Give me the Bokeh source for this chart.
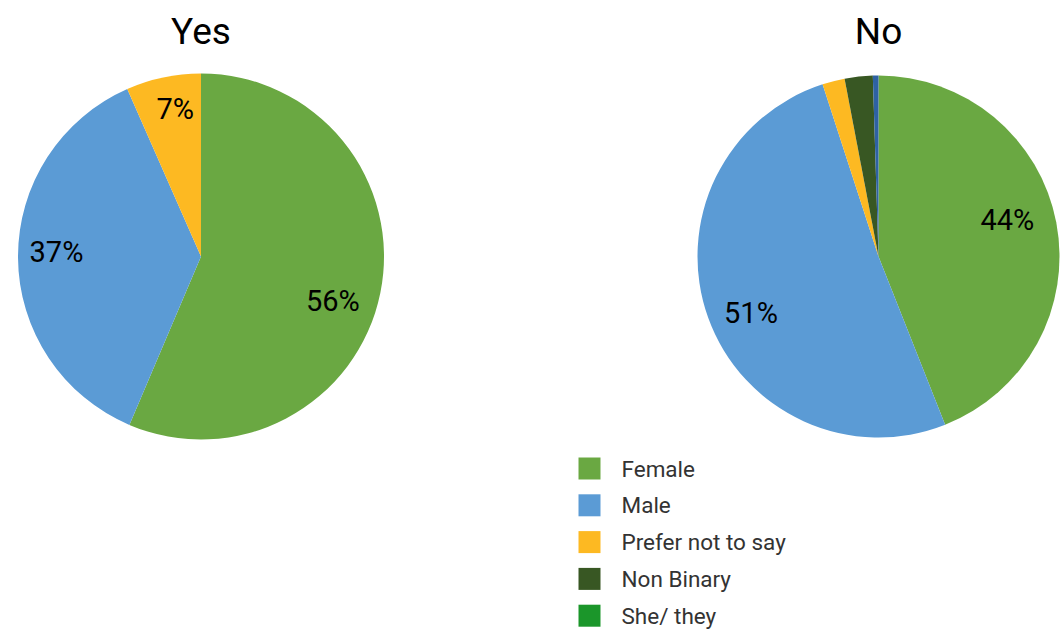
import math
from bokeh.plotting import figure
from bokeh.models import Range1d
from bokeh.core.properties import value
from bokeh.embed import file_html
from bokeh.resources import INLINE

# ---- data ----
categories = ["Female", "Male", "Prefer not to say", "Non Binary", "She/ they"]
yes_values = [56.4, 37.0, 6.6, 0, 0]
no_values = [44, 51, 2, 2.5, 0.5]
yes_labels = ["56%", "37%", "7%", "", ""]
no_labels = ["44%", "51%", "", "", ""]

# ---- styles ----
legend_colors = ["#6aa842", "#5b9bd5", "#fdb922", "#385723", "#1b962a"]
slice_colors = ["#6aa842", "#5b9bd5", "#fdb922", "#385723", "#2e62a3"]
FONT = "Roboto"

W, H = 1063, 632
p = figure(width=W, height=H, output_backend="svg", toolbar_location=None,
           x_range=Range1d(0, W), y_range=Range1d(0, H),
           min_border=0)
p.axis.visible = False
p.grid.visible = False
p.outline_line_color = None


def draw_pie(cx, cy, r, vals, labels, lab_shift, lab_rad, title):
    total = float(sum(vals))
    cum = 0.0
    for i, v in enumerate(vals):
        if v <= 0:
            continue
        a0 = math.pi / 2 - 2 * math.pi * cum / total
        cum += v
        a1 = math.pi / 2 - 2 * math.pi * cum / total
        p.wedge(x=[cx], y=[cy], radius=r, start_angle=a0, end_angle=a1,
                direction="clock", fill_color=slice_colors[i], line_color=None)
        if labels[i]:
            mid = (a0 + a1) / 2 + math.radians(lab_shift[i])
            lx = cx + lab_rad[i] * r * math.cos(mid)
            ly = cy + lab_rad[i] * r * math.sin(mid)
            p.text(x=[lx], y=[ly], text=[labels[i]], text_align="center",
                   text_baseline="middle", text_font=value(FONT),
                   text_font_size="29px", text_color="#000000")
    p.text(x=[cx], y=[H - 31], text=[title], text_align="center",
           text_baseline="middle", text_font=value(FONT),
           text_font_size="37px", text_color="#000000")


# page coords: data y = H - image y
draw_pie(200.5, H - 256, 183, yes_values, yes_labels,
         [-7, -2, -2, 0, 0], [0.76, 0.79, 0.82, 0, 0], "Yes")
draw_pie(878, H - 256, 181, no_values, no_labels,
         [5, 4, 0, 0, 0], [0.74, 0.77, 0, 0, 0], "No")

# legend
for i, c in enumerate(categories):
    yc = H - (468 + i * 36.8)
    p.rect(x=[589], y=[yc], width=22, height=22, fill_color=legend_colors[i],
           line_color=None)
    p.text(x=[621], y=[yc], text=[c], text_align="left", text_baseline="middle",
           text_font=value(FONT), text_font_size="22.5px", text_color="#333333")

open("out.html", "w").write(file_html(p, INLINE))
